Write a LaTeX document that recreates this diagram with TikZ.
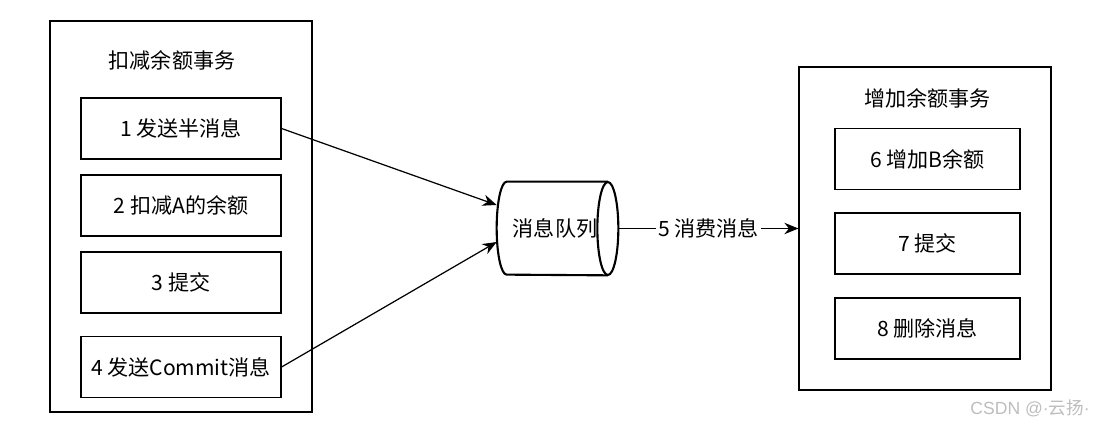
\documentclass[tikz,border=0pt]{standalone}
\usepackage{fontspec}
\setmainfont{Noto Sans CJK SC}
\newfontfamily\latinfont{Liberation Sans}
\usepackage{tikz}
\usetikzlibrary{positioning, shapes.geometric, arrows.meta, calc}
\definecolor{diagline}{HTML}{000000}
\definecolor{wmark}{HTML}{BDBDBD}

\begin{document}
\begin{tikzpicture}[x=0.02cm, y=-0.02cm, font=\fontsize{12}{14}\selectfont,
 grp/.style={draw=diagline, line width=0.7pt, inner sep=0pt},
 stepbox/.style={draw=diagline, line width=0.7pt, minimum height=1.22cm, inner sep=2pt},
 qline/.style={draw=diagline, line width=1.2pt},
 arr/.style={-{Stealth[length=8pt,width=6.5pt]}, line width=0.7pt, diagline}]
\useasboundingbox (0,0) rectangle (1098,425);

% left transaction
\node[grp, minimum width=5.24cm, minimum height=7.82cm](lbox) at (181,216.5){};
\node(ltitle) at (172,60){扣减余额事务};
\node[stepbox, minimum width=4cm](s1) at (181,128.5){1 发送半消息};
\node[stepbox, minimum width=4cm](s2) at (181,205.5){2 扣减A的余额};
\node[stepbox, minimum width=4cm](s3) at (181,282.5){3 提交};
\node[stepbox, minimum width=4cm](s4) at (181,367){4 发送Commit消息};

% queue (cylinder lying on its side)
\node[minimum width=2.42cm, minimum height=1.86cm, inner sep=0pt](queue) at (557.5,228.5){\hspace*{-0.1cm}消息队列};
\draw[qline] ([xshift=-0.21cm]queue.north east) -- ([xshift=0.2cm]queue.north west)
  arc[start angle=90, end angle=270, x radius=0.2cm, y radius=0.93cm] -- ([xshift=-0.21cm]queue.south east);
\draw[qline] ([xshift=-0.21cm]queue.east) ellipse[x radius=0.21cm, y radius=0.93cm];

% right transaction
\node[grp, minimum width=5.04cm, minimum height=6.46cm](rbox) at (925,228.5){};
\node(rtitle) at (927.5,98){增加余额事务};
\node[stepbox, minimum width=3.7cm](t6) at (927.5,159){6 增加B余额};
\node[stepbox, minimum width=3.7cm](t7) at (927.5,243.5){7 提交};
\node[stepbox, minimum width=3.7cm](t8) at (927.5,328.5){8 删除消息};

\foreach \a/\s in {s1/0.47cm, s4/-0.27cm}
  {\draw[arr](\a.east)--([yshift=\s]queue.west);}
\draw[arr](queue.east)--node[fill=white, inner sep=1pt]{5 消费消息}(rbox.west);

\node[text=wmark, font=\fontsize{10}{11}\selectfont, anchor=east](mark) at (1096,408){{\latinfont CSDN @·}云扬{\latinfont ·}};
\end{tikzpicture}
\end{document}
